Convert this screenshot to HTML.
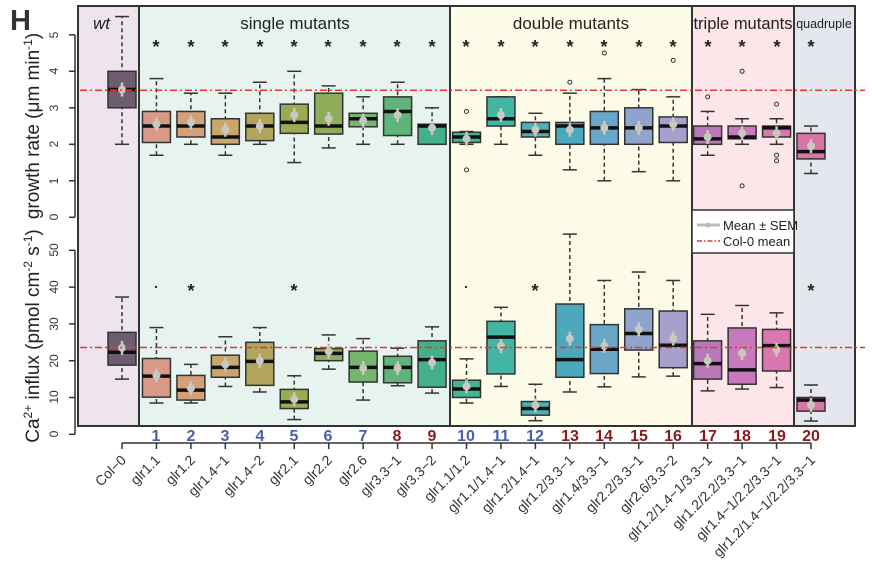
<!DOCTYPE html>
<html><head><meta charset="utf-8"><style>
body{margin:0;background:#fff}
svg{display:block;font-family:"Liberation Sans",sans-serif}
</style></head><body>
<svg id="s" width="872" height="570" viewBox="0 0 872 570" xmlns="http://www.w3.org/2000/svg">
<rect x="78" y="6" width="61" height="420" fill="#ede4ee"/>
<rect x="139" y="6" width="311" height="420" fill="#e7f3ee"/>
<rect x="450" y="6" width="242" height="420" fill="#fcfbe8"/>
<rect x="692" y="6" width="102" height="420" fill="#fce6e9"/>
<rect x="794" y="6" width="61" height="420" fill="#e4e8ee"/>
<g stroke="#333" stroke-width="2" fill="none">
<rect x="78" y="6" width="777" height="420"/>
<line x1="139" y1="6" x2="139" y2="426"/><line x1="450" y1="6" x2="450" y2="426"/>
<line x1="692" y1="6" x2="692" y2="426"/><line x1="794" y1="6" x2="794" y2="426"/>
</g>
<rect x="692" y="210" width="102" height="43" fill="#fff" stroke="#333" stroke-width="1.5"/>
<line x1="697" y1="225" x2="720" y2="225" stroke="#bbb" stroke-width="3"/>
<circle cx="708" cy="225" r="2.5" fill="#bbb"/>
<text x="723" y="230" font-size="13" fill="#222">Mean ± SEM</text>
<line x1="697" y1="241" x2="720" y2="241" stroke="#e33" stroke-width="1.5" stroke-dasharray="5,2,1.5,2"/>
<text x="723" y="246" font-size="13" fill="#222">Col-0 mean</text>
<g font-size="17" fill="#222">
<text x="93" y="29" font-style="italic">wt</text>
<text x="295" y="29" text-anchor="middle">single mutants</text>
<text x="571" y="29" text-anchor="middle">double mutants</text>
<text x="743" y="29" text-anchor="middle" font-size="16.5">triple mutants</text>
<text x="824" y="28" text-anchor="middle" font-size="12.5">quadruple</text>
</g>
<text x="10" y="30" font-size="29" font-weight="bold" fill="#333">H</text>
<g font-size="19" fill="#222">
<text transform="translate(39,126) rotate(-90)" text-anchor="middle">growth rate (μm min<tspan dy="-7" font-size="12">-1</tspan><tspan dy="7">)</tspan></text>
<text transform="translate(39,336) rotate(-90)" text-anchor="middle">Ca<tspan dy="-7" font-size="12">2+</tspan><tspan dy="7"> influx (pmol cm</tspan><tspan dy="-7" font-size="12">-2</tspan><tspan dy="7"> s</tspan><tspan dy="-7" font-size="12">-1</tspan><tspan dy="7">)</tspan></text>
</g>
<g font-size="12" fill="#333" text-anchor="middle">
<text transform="translate(58,217) rotate(-90)">0</text>
<text transform="translate(58,181) rotate(-90)">1</text>
<text transform="translate(58,144) rotate(-90)">2</text>
<text transform="translate(58,108) rotate(-90)">3</text>
<text transform="translate(58,71) rotate(-90)">4</text>
<text transform="translate(58,35) rotate(-90)">5</text>
<text transform="translate(58,434) rotate(-90)">0</text>
<text transform="translate(58,397) rotate(-90)">10</text>
<text transform="translate(58,361) rotate(-90)">20</text>
<text transform="translate(58,324) rotate(-90)">30</text>
<text transform="translate(58,287) rotate(-90)">40</text>
<text transform="translate(58,250) rotate(-90)">50</text>
</g>
<g font-size="16" font-weight="bold" text-anchor="middle" fill="#4a5fa8">
<text x="156" y="441">1</text><text x="191" y="441">2</text><text x="225" y="441">3</text><text x="260" y="441">4</text><text x="294" y="441">5</text><text x="328" y="441">6</text><text x="363" y="441">7</text>
<text x="397" y="441" fill="#8b1a1a">8</text><text x="432" y="441" fill="#8b1a1a">9</text>
<text x="466" y="441">10</text><text x="501" y="441">11</text><text x="535" y="441">12</text>
<g fill="#8b1a1a"><text x="570" y="441">13</text><text x="604" y="441">14</text><text x="639" y="441">15</text><text x="673" y="441">16</text><text x="708" y="441">17</text><text x="742" y="441">18</text><text x="777" y="441">19</text><text x="811" y="441">20</text></g>
</g>
<g font-size="14" fill="#333" text-anchor="end">
<text transform="translate(127,461) rotate(-45)">Col−0</text>
<text transform="translate(161,461) rotate(-45)">glr1.1</text>
<text transform="translate(196,461) rotate(-45)">glr1.2</text>
<text transform="translate(230,461) rotate(-45)">glr1.4−1</text>
<text transform="translate(265,461) rotate(-45)">glr1.4−2</text>
<text transform="translate(299,461) rotate(-45)">glr2.1</text>
<text transform="translate(333,461) rotate(-45)">glr2.2</text>
<text transform="translate(368,461) rotate(-45)">glr2.6</text>
<text transform="translate(402,461) rotate(-45)">glr3.3−1</text>
<text transform="translate(437,461) rotate(-45)">glr3.3−2</text>
<text transform="translate(471,461) rotate(-45)">glr1.1/1.2</text>
<text transform="translate(506,461) rotate(-45)">glr1.1/1.4−1</text>
<text transform="translate(540,461) rotate(-45)">glr1.2/1.4−1</text>
<text transform="translate(575,461) rotate(-45)">glr1.2/3.3−1</text>
<text transform="translate(609,461) rotate(-45)">glr1.4/3.3−1</text>
<text transform="translate(644,461) rotate(-45)">glr2.2/3.3−1</text>
<text transform="translate(678,461) rotate(-45)">glr2.6/3.3−2</text>
<text transform="translate(713,461) rotate(-45)">glr1.2/1.4−1/3.3−1</text>
<text transform="translate(747,461) rotate(-45)">glr1.2/2.2/3.3−1</text>
<text transform="translate(782,461) rotate(-45)">glr1.4−1/2.2/3.3−1</text>
<text transform="translate(816,461) rotate(-45)">glr1.2/1.4−1/2.2/3.3−1</text>
</g>
<g font-size="18" font-weight="bold" fill="#222" text-anchor="middle">
<text x="156" y="53">*</text><text x="191" y="53">*</text><text x="225" y="53">*</text><text x="260" y="53">*</text><text x="294" y="53">*</text><text x="328" y="53">*</text><text x="363" y="53">*</text><text x="397" y="53">*</text><text x="432" y="53">*</text><text x="466" y="53">*</text><text x="501" y="53">*</text><text x="535" y="53">*</text><text x="570" y="53">*</text><text x="604" y="53">*</text><text x="639" y="53">*</text><text x="673" y="53">*</text><text x="708" y="53">*</text><text x="742" y="53">*</text><text x="777" y="53">*</text><text x="811" y="53">*</text>
<text x="191" y="297">*</text><text x="294" y="297">*</text><text x="535" y="297">*</text><text x="811" y="297">*</text>
</g>
<g id="g"></g>
</svg>
<script>
(function(){
var g=document.getElementById('g'),h='';
function X(i){return 122+34.45*i}
function T(v){return 217.3-36.5*v}
function B(v){return 434.3-3.68*v}
var cols=['#6e5d6e','#d89a86','#d4a07a','#c9a66a','#b0a55a','#9aab52','#8ead5a','#76b56e','#5fb47a','#44b08a','#44b494','#44b4a4','#48b2b4','#4ca8bc','#6aa6c8','#8ea4cc','#a7a0cc','#b878b8','#c878bc','#d877b0','#d874a8'];
var tdat=[[2,3,3.5,4,5.5,3.5],[1.7,2.05,2.5,2.9,3.8,2.55],[2,2.2,2.5,2.9,3.4,2.6],[1.7,2,2.2,2.7,3.4,2.4],[2,2.1,2.5,2.85,3.7,2.5],[1.5,2.3,2.6,3.1,4,2.8],[1.9,2.28,2.5,3.4,3.6,2.7],[2,2.48,2.7,2.85,3.3,2.65],[2,2.24,2.9,3.3,3.7,2.8],[2,2,2.5,2.55,3,2.45],[2,2.05,2.2,2.33,2.35,2.15],[2,2.5,2.7,3.3,3.3,2.8],[1.7,2.2,2.35,2.6,2.85,2.4],[1.3,2,2.5,2.6,3.4,2.4],[1,2,2.45,2.9,3.8,2.45],[1.25,2,2.45,3,3.5,2.45],[1,2.05,2.5,2.75,3.3,2.55],[1.7,2,2.15,2.5,2.9,2.2],[2,2.15,2.2,2.5,2.7,2.3],[2,2.2,2.45,2.5,2.7,2.3],[1.2,1.6,1.8,2.3,2.5,1.95]];
var tout=[[10,2.9],[10,1.3],[13,3.7],[14,4.5],[16,4.3],[17,3.3],[18,4],[18,0.86],[19,3.1],[19,1.7],[19,1.55]];
var bdat=[[15,18.8,22.3,27.7,37.3,23.5],[8.5,10.1,15.8,20.6,29,16],[8.5,9.3,12,16,19,12.5],[13,15.5,18.2,21.5,26.5,19],[11.5,13.3,19.8,25,29,20],[4,7,8.8,12.2,15.9,9.5],[17.7,20,22,23.3,27,22.5],[9.3,14.2,18.2,22.6,26,18],[13.2,14,18.2,21.2,23.4,18],[11.2,12.8,20.3,25.4,29.2,19.5],[8.5,10,12.3,14.7,20.5,13],[13,16.4,26.4,30.7,34.5,24],[3.7,5.2,7,8.9,13.6,7.9],[11.5,15.5,20.3,35.4,54.4,26],[12.9,16.5,23.1,29.8,41.8,24],[15.6,22.9,27.4,34.1,44.1,28.5],[15.8,18.1,24.2,33.5,41.8,26],[11.8,15,19.2,25.4,32.6,20],[12.3,13.6,17.5,28.9,35,22],[12.7,17.2,24.1,28.5,33,23],[3.6,6.3,9.3,10,13.4,8]];
function box(i,d,F){var x=X(i),w=14,s='';
 s+='<line x1="'+x+'" y1="'+F(d[0])+'" x2="'+x+'" y2="'+F(d[4])+'" stroke="#333" stroke-width="1.5" stroke-dasharray="4,3"/>';
 [d[0],d[4]].forEach(function(v){s+='<line x1="'+(x-7)+'" x2="'+(x+7)+'" y1="'+F(v)+'" y2="'+F(v)+'" stroke="#333" stroke-width="1.5"/>'});
 s+='<rect x="'+(x-w)+'" y="'+F(d[3])+'" width="'+2*w+'" height="'+(F(d[1])-F(d[3]))+'" fill="'+cols[i]+'" stroke="#333" stroke-width="1.5"/>';
 s+='<line x1="'+(x-w)+'" x2="'+(x+w)+'" y1="'+F(d[2])+'" y2="'+F(d[2])+'" stroke="#111" stroke-width="3.5"/>';
 var m=F(d[5]);s+='<line x1="'+x+'" x2="'+x+'" y1="'+(m-7)+'" y2="'+(m+7)+'" stroke="#c8c8c0" stroke-width="2.5"/><circle cx="'+x+'" cy="'+m+'" r="4" fill="#c8c8c0"/>';
 return s;}
for(var i=0;i<21;i++){h+=box(i,tdat[i],T);h+=box(i,bdat[i],B);}
tout.forEach(function(o){h+='<circle cx="'+X(o[0])+'" cy="'+T(o[1])+'" r="2" fill="none" stroke="#333" stroke-width="1"/>'});
h+='<circle cx="156" cy="287" r="1.2" fill="#333"/><circle cx="466" cy="287" r="1.2" fill="#333"/>';
h+='<line x1="80" x2="865" y1="90.3" y2="90.3" stroke="#e33" stroke-width="1.5" stroke-dasharray="7,3,2,3"/>';
h+='<line x1="80" x2="865" y1="347.5" y2="347.5" stroke="#e33" stroke-width="1.5" stroke-dasharray="7,3,2,3"/>';
h+='<g stroke="#333" stroke-width="1.5"><line x1="75" x2="75" y1="35" y2="217.3"/><line x1="75" x2="75" y1="250.3" y2="434.3"/>';
for(var v=0;v<=5;v++)h+='<line x1="69" x2="75" y1="'+T(v)+'" y2="'+T(v)+'"/>';
for(var v=0;v<=50;v+=10)h+='<line x1="69" x2="75" y1="'+B(v)+'" y2="'+B(v)+'"/>';
h+='<line x1="122" x2="811" y1="443" y2="443"/>';
for(var i=0;i<21;i++)h+='<line x1="'+X(i)+'" x2="'+X(i)+'" y1="443" y2="449"/>';
h+='</g>';
g.innerHTML=h;
})();
</script>
</body></html>
